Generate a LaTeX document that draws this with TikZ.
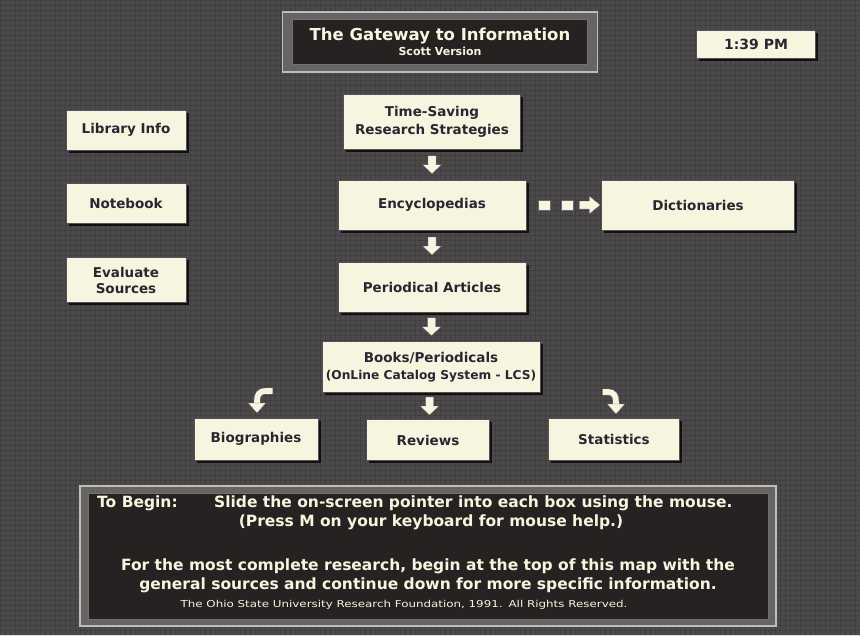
\documentclass[tikz,border=0pt]{standalone}
\usepackage{fontspec}
\usepackage{graphicx}
\setmainfont{DejaVu Sans}
\usetikzlibrary{shadows,calc}
\definecolor{bgc}{RGB}{76,73,74}
\definecolor{cream}{RGB}{246,246,224}
\definecolor{ink}{RGB}{40,38,48}
\definecolor{panel}{RGB}{38,34,34}
\definecolor{frame}{RGB}{190,190,178}
\tikzset{
  mapbox/.style={fill=cream, draw=ink!80, line width=0.5pt, align=center,
    font=\bfseries\fontsize{13.5}{18}\selectfont, text=ink, inner sep=2pt,
    drop shadow={shadow xshift=2.5pt, shadow yshift=-2.5pt, fill=black, opacity=0.75}},
  blockarrow/.style={fill=cream, draw=ink!70, line width=0.4pt},
  frametext/.style={text=cream, font=\bfseries\fontsize{15.5}{18}\selectfont, align=center, inner sep=0pt}
}
\begin{document}
\begin{tikzpicture}[x=1pt,y=-1pt]
\useasboundingbox (0,0) rectangle (860,635);
\fill[bgc] (0,0) rectangle (860,635);
% subtle texture lines
\foreach \i in {0,5,...,860} {\draw[black, line width=0.3pt, opacity=0.12] (\i,0) -- (\i,635);}
\foreach \j in {0,5,...,635} {\draw[black, line width=0.3pt, opacity=0.12] (0,\j) -- (860,\j);}

% title
\node[fill=bgc!85!white, draw=frame, line width=1.5pt, minimum width=315pt, minimum height=60pt] (titleframe) at (440,42) {};
\node[fill=panel, draw=frame!60!black, line width=0.8pt, minimum width=295pt, minimum height=45pt, align=center, text=cream, inner sep=0pt] (title) at (440,42)
  {{\bfseries\fontsize{16.5}{19}\selectfont The Gateway to Information}\\[3pt]{\bfseries\fontsize{11}{12}\selectfont Scott Version}};

% time
\node[mapbox, minimum width=119pt, minimum height=28pt, font=\bfseries\fontsize{14}{16}\selectfont] (time) at (756,44) {1:39 PM};

% left column
\node[mapbox, minimum width=120pt, minimum height=40pt] (lib) at (126,130) {Library Info};
\node[mapbox, minimum width=120pt, minimum height=40pt] (note) at (126,203) {Notebook};
\node[mapbox, minimum width=120pt, minimum height=45pt, font=\bfseries\fontsize{13.5}{16}\selectfont] (eval) at (126,280) {Evaluate\\Sources};

% main chain
\node[mapbox, minimum width=177pt, minimum height=55pt] (ts) at (432,122) {Time-Saving\\Research Strategies};
\node[mapbox, minimum width=188pt, minimum height=50pt] (enc) at (432,205) {Encyclopedias};
\node[mapbox, minimum width=193pt, minimum height=50pt] (dict) at (698,205) {Dictionaries};
\node[mapbox, minimum width=188pt, minimum height=50pt] (per) at (432,287) {Periodical Articles};
\node[mapbox, minimum width=218pt, minimum height=51pt, font=\bfseries\fontsize{13.5}{17}\selectfont] (books) at (431,367) {Books/Periodicals\\{\fontsize{12.2}{15}\selectfont (OnLine Catalog System - LCS)}};
\node[mapbox, minimum width=124pt, minimum height=42pt] (bio) at (256,439) {Biographies};
\node[mapbox, minimum width=123pt, minimum height=41pt] (rev) at (428,440) {Reviews};
\node[mapbox, minimum width=131pt, minimum height=42pt] (stat) at (614,439) {Statistics};

% down block arrows
\foreach \a/\b in {ts/enc, enc/per, per/books, books/rev} {
  \coordinate (m) at ($(\a.south)!0.5!(\b.north)$);
  \draw[blockarrow] ($(m)+(-4,-9)$) -- ($(m)+(4,-9)$) -- ($(m)+(4,0)$) -- ($(m)+(9.5,0)$) -- ($(m)+(0,9)$) -- ($(m)+(-9.5,0)$) -- ($(m)+(-4,0)$) -- cycle;
}

% dashed arrow enc -> dict
\coordinate (dstart) at ($(enc.east)+(12,0)$);
\draw[blockarrow] ($(dstart)+(0,-5)$) rectangle ($(dstart)+(12,5)$);
\draw[blockarrow] ($(dstart)+(23,-5)$) rectangle ($(dstart)+(35,5)$);
\draw[blockarrow] ($(dstart)+(41,-4)$) -- ($(dstart)+(51,-4)$) -- ($(dstart)+(51,-9)$) -- ($(dstart)+(62,0)$) -- ($(dstart)+(51,9)$) -- ($(dstart)+(51,4)$) -- ($(dstart)+(41,4)$) -- cycle;

% curved arrows
\draw[ink!70, line width=7pt] (272,391) -- (266,391) .. controls (259,391) and (257,395) .. (257,401) -- (257,403);
\draw[cream, line width=5.6pt] (272.5,391) -- (266,391) .. controls (259,391) and (257,395) .. (257,401) -- (257,403.5);
\draw[blockarrow] (248,403) -- (266,403) -- (257,413) -- cycle;

\draw[ink!70, line width=7pt] (603,392) -- (608,392) .. controls (614,392) and (616,396) .. (616,402) -- (616,404);
\draw[cream, line width=5.6pt] (602.5,392) -- (608,392) .. controls (614,392) and (616,396) .. (616,402) -- (616,404.5);
\draw[blockarrow] (607,404) -- (625,404) -- (616,414) -- cycle;

% bottom panel
\node[fill=bgc!85!white, draw=frame, line width=1.5pt, minimum width=696pt, minimum height=140pt] (bframe) at (428,556) {};
\node[fill=panel, draw=frame!60!black, line width=0.8pt, minimum width=680pt, minimum height=126pt] (bpanel) at (428,556) {};
\node[frametext, anchor=west] (tb) at (97,503) {To Begin:};
\node[frametext, anchor=west] (tb2) at (214,503) {Slide the on-screen pointer into each box using the mouse.};
\node[frametext] (tb3) at (431,522) {(Press M on your keyboard for mouse help.)};
\node[frametext] (tb4) at (428,566) {For the most complete research, begin at the top of this map with the};
\node[frametext] (tb5) at (428,585) {general sources and continue down for more specific information.};
\node[text=cream, font=\fontsize{9.5}{10}\selectfont, inner sep=0pt] (tb6) at (404,605) {\scalebox{1.25}[1]{The Ohio State University Research Foundation, 1991.\enspace All Rights Reserved.}};
\end{tikzpicture}
\end{document}
